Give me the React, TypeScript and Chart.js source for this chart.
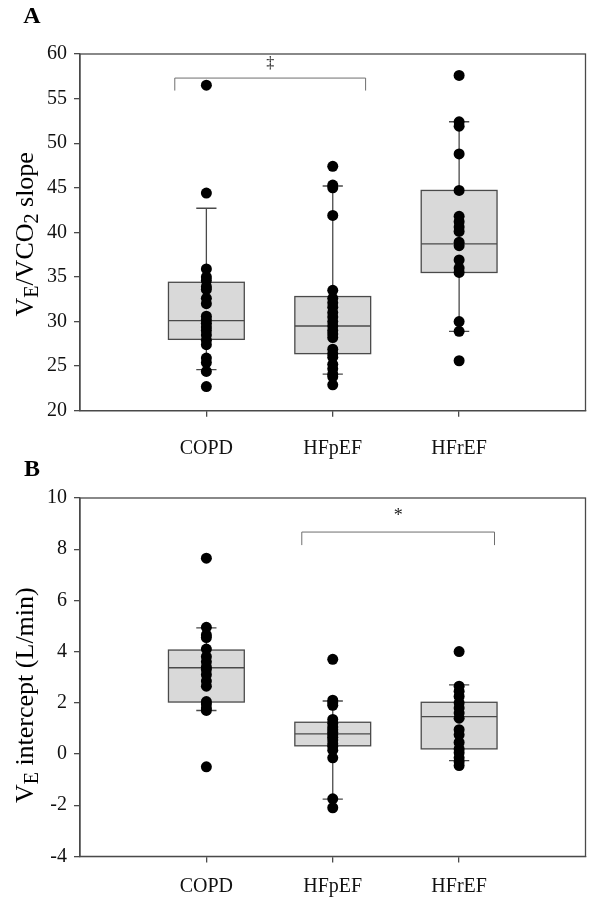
import React, { useEffect, useRef } from "react";
import { Chart, registerables } from "chart.js";

Chart.register(...registerables);

// ---------- data ----------
const categories = ["COPD", "HFpEF", "HFrEF"];

// Panel A: VE/VCO2 slope
const slopeCOPD = [56.5, 44.4, 35.9, 35.0, 34.6, 33.9, 33.6, 32.6, 32.0, 30.6, 30.2, 29.8, 29.4, 29.0, 28.5, 27.9, 27.4, 25.9, 25.4, 24.4, 22.7];
const slopeHFpEF = [47.4, 45.3, 45.0, 41.9, 33.5, 32.6, 32.1, 31.6, 31.0, 30.5, 30.0, 29.5, 29.0, 28.6, 28.2, 26.9, 26.4, 26.0, 25.2, 24.7, 24.1, 23.8, 22.9];
const slopeHFrEF = [57.6, 52.4, 51.9, 48.8, 44.7, 41.8, 41.2, 40.6, 40.1, 38.9, 38.5, 36.9, 36.0, 35.5, 30.0, 28.9, 25.6];
const slopeWhiskerLow = [24.6, 24.1, 28.9];
const slopeQ1 = [28.0, 26.4, 35.5];
const slopeMedian = [30.1, 29.5, 38.7];
const slopeQ3 = [34.4, 32.8, 44.7];
const slopeWhiskerHigh = [42.7, 45.2, 52.4];
const slopeTicks = [20, 25, 30, 35, 40, 45, 50, 55, 60];

// Panel B: VE intercept
const interceptCOPD = [7.65, 4.95, 4.65, 4.55, 4.1, 3.8, 3.6, 3.4, 3.3, 3.1, 2.85, 2.65, 2.05, 1.95, 1.8, 1.7, -0.5];
const interceptHFpEF = [3.7, 2.1, 2.0, 1.9, 1.35, 1.2, 1.05, 0.95, 0.85, 0.75, 0.65, 0.55, 0.4, 0.3, 0.15, -0.15, -1.75, -2.1];
const interceptHFrEF = [4.0, 2.65, 2.45, 2.25, 2.0, 1.8, 1.6, 1.4, 0.95, 0.75, 0.45, 0.2, 0.05, -0.15, -0.3, -0.45];
const interceptWhiskerLow = [1.7, -1.76, -0.26];
const interceptQ1 = [2.03, 0.32, 0.2];
const interceptMedian = [3.37, 0.79, 1.46];
const interceptQ3 = [4.06, 1.24, 2.02];
const interceptWhiskerHigh = [4.93, 2.07, 2.7];
const interceptTicks = [-4, -2, 0, 2, 4, 6, 8, 10];

// ---------- styling ----------
const SERIF = '"Liberation Serif", "Times New Roman", serif';
const AXIS_COLOR = "#4a4a4a";
const BOX_FILL = "#d9d9d9";
const BOX_W = 0.6; // in category units
const CAP_W = 0.16;

type Panel = {
  letter: string;
  top: number;
  height: number;
  padTop: number;
  xAxisHeight: number;
  xLabelPad: number;
  letterY: number;
  titleShift: number;
  ticks: number[];
  series: number[][];
  lo: number[];
  q1: number[];
  med: number[];
  q3: number[];
  hi: number[];
  title: { text: string; sub?: boolean }[];
  bracket: { from: number; to: number; y: number; drop: number; label: string; labelY: number; labelSize: number };
};

const panels: Panel[] = [
  {
    letter: "A",
    top: 0,
    height: 460,
    padTop: 54,
    xAxisHeight: 49.3,
    xLabelPad: 20,
    letterY: 17,
    titleShift: 2,
    ticks: slopeTicks,
    series: [slopeCOPD, slopeHFpEF, slopeHFrEF],
    lo: slopeWhiskerLow,
    q1: slopeQ1,
    med: slopeMedian,
    q3: slopeQ3,
    hi: slopeWhiskerHigh,
    title: [
      { text: "V" },
      { text: "E", sub: true },
      { text: "/VCO" },
      { text: "2", sub: true },
      { text: " slope" },
    ],
    bracket: { from: 0.75, to: 2.26, y: 57.3, drop: 55.9, label: "‡", labelY: 58.9, labelSize: 16 },
  },
  {
    letter: "B",
    top: 460,
    height: 440,
    padTop: 38,
    xAxisHeight: 43.6,
    xLabelPad: 12,
    letterY: 10,
    titleShift: 18,
    ticks: interceptTicks,
    series: [interceptCOPD, interceptHFpEF, interceptHFrEF],
    lo: interceptWhiskerLow,
    q1: interceptQ1,
    med: interceptMedian,
    q3: interceptQ3,
    hi: interceptWhiskerHigh,
    title: [{ text: "V" }, { text: "E", sub: true }, { text: " intercept (L/min)" }],
    bracket: { from: 1.755, to: 3.28, y: 8.67, drop: 8.16, label: "*", labelY: 9.3, labelSize: 18 },
  },
];

const boxPlugin = {
  id: "boxWhisker",
  beforeDatasetsDraw(chart: any, _args: any, opts: any) {
    const p: Panel = opts.panel;
    const { ctx } = chart;
    const x = chart.scales.x;
    const y = chart.scales.y;
    ctx.save();
    ctx.strokeStyle = AXIS_COLOR;
    ctx.lineWidth = 1.3;
    p.q1.forEach((q1, i) => {
      const cx = x.getPixelForValue(i + 1);
      const half = x.getPixelForValue(i + 1 + BOX_W / 2) - cx;
      const capHalf = x.getPixelForValue(i + 1 + CAP_W / 2) - cx;
      const yq1 = y.getPixelForValue(q1);
      const yq3 = y.getPixelForValue(p.q3[i]);
      const ym = y.getPixelForValue(p.med[i]);
      const ylo = y.getPixelForValue(p.lo[i]);
      const yhi = y.getPixelForValue(p.hi[i]);
      ctx.beginPath();
      ctx.moveTo(cx, yq3);
      ctx.lineTo(cx, yhi);
      ctx.moveTo(cx, yq1);
      ctx.lineTo(cx, ylo);
      ctx.moveTo(cx - capHalf, yhi);
      ctx.lineTo(cx + capHalf, yhi);
      ctx.moveTo(cx - capHalf, ylo);
      ctx.lineTo(cx + capHalf, ylo);
      ctx.stroke();
      ctx.fillStyle = BOX_FILL;
      ctx.fillRect(cx - half, yq3, 2 * half, yq1 - yq3);
      ctx.strokeRect(cx - half, yq3, 2 * half, yq1 - yq3);
      ctx.beginPath();
      ctx.moveTo(cx - half, ym);
      ctx.lineTo(cx + half, ym);
      ctx.stroke();
    });
    ctx.restore();
  },
  afterDraw(chart: any, _args: any, opts: any) {
    const p: Panel = opts.panel;
    const { ctx, chartArea } = chart;
    const x = chart.scales.x;
    const y = chart.scales.y;
    ctx.save();
    // frame
    ctx.strokeStyle = AXIS_COLOR;
    ctx.lineWidth = 1.3;
    ctx.strokeRect(chartArea.left, chartArea.top, chartArea.right - chartArea.left, chartArea.bottom - chartArea.top);

    // significance bracket
    const b = p.bracket;
    const bx1 = x.getPixelForValue(b.from);
    const bx2 = x.getPixelForValue(b.to);
    const by = y.getPixelForValue(b.y);
    const bd = y.getPixelForValue(b.drop);
    ctx.strokeStyle = "#6e6e6e";
    ctx.lineWidth = 1;
    ctx.beginPath();
    ctx.moveTo(bx1, bd);
    ctx.lineTo(bx1, by);
    ctx.lineTo(bx2, by);
    ctx.lineTo(bx2, bd);
    ctx.stroke();
    ctx.fillStyle = "#222";
    ctx.font = `${b.labelSize}px ${SERIF}`;
    ctx.textAlign = "center";
    ctx.textBaseline = "middle";
    ctx.fillText(b.label, (bx1 + bx2) / 2, y.getPixelForValue(b.labelY));

    // panel letter
    ctx.fillStyle = "#000";
    ctx.font = `bold 24px ${SERIF}`;
    ctx.textAlign = "center";
    ctx.textBaseline = "middle";
    ctx.fillText(p.letter, 32, p.letterY);

    // y-axis title with subscripts
    const mainFont = `26px ${SERIF}`;
    const subFont = `20px ${SERIF}`;
    let total = 0;
    const widths = p.title.map((part) => {
      ctx.font = part.sub ? subFont : mainFont;
      const w = ctx.measureText(part.text).width;
      total += w;
      return w;
    });
    const cy = (chartArea.top + chartArea.bottom) / 2 + p.titleShift;
    ctx.translate(26, cy);
    ctx.rotate(-Math.PI / 2);
    ctx.textAlign = "left";
    ctx.textBaseline = "middle";
    let pos = -total / 2;
    p.title.forEach((part, i) => {
      ctx.font = part.sub ? subFont : mainFont;
      ctx.fillText(part.text, pos, part.sub ? 7 : 0);
      pos += widths[i];
    });
    ctx.restore();
  },
};

function PanelChart({ p }: { p: Panel }) {
  const ref = useRef<HTMLCanvasElement | null>(null);
  useEffect(() => {
    if (!ref.current) return;
    const datasets = p.series.map((vals, i) => ({
      type: "scatter" as const,
      data: vals.map((v) => ({ x: i + 1, y: v })),
      pointRadius: 5.5,
      pointHoverRadius: 5.5,
      backgroundColor: "#000",
      borderWidth: 0,
    }));
    const min = p.ticks[0];
    const max = p.ticks[p.ticks.length - 1];
    const chart = new Chart(ref.current, {
      type: "scatter",
      data: { datasets },
      plugins: [boxPlugin],
      options: {
        animation: false,
        responsive: false,
        maintainAspectRatio: false,
        layout: { padding: { top: p.padTop, right: 2, left: 0, bottom: 0 } },
        plugins: {
          legend: { display: false },
          tooltip: { enabled: false },
          boxWhisker: { panel: p },
        } as any,
        scales: {
          x: {
            type: "linear",
            min: 0,
            max: 4,
            afterBuildTicks: (scale: any) => {
              scale.ticks = categories.map((_, i) => ({ value: i + 1 }));
            },
            afterFit: (scale: any) => {
              scale.height = p.xAxisHeight;
            },
            ticks: {
              callback: (v: any) => categories[Number(v) - 1] ?? "",
              font: { family: SERIF, size: 20 },
              color: "#111",
              padding: p.xLabelPad,
              maxRotation: 0,
              autoSkip: false,
            },
            grid: { drawOnChartArea: false, drawTicks: true, tickLength: 6, color: AXIS_COLOR, lineWidth: 1.3 },
            border: { display: true, color: AXIS_COLOR, width: 1.3 },
          },
          y: {
            type: "linear",
            min,
            max,
            afterBuildTicks: (scale: any) => {
              scale.ticks = p.ticks.map((v) => ({ value: v }));
            },
            afterFit: (scale: any) => {
              scale.width = 80;
            },
            ticks: {
              font: { family: SERIF, size: 20 },
              color: "#111",
              padding: 7,
              autoSkip: false,
            },
            grid: { drawOnChartArea: false, drawTicks: true, tickLength: 6, color: AXIS_COLOR, lineWidth: 1.3 },
            border: { display: true, color: AXIS_COLOR, width: 1.3 },
          },
        },
      } as any,
    });
    return () => chart.destroy();
  }, [p]);
  return (
    <canvas
      ref={ref}
      width={591}
      height={p.height}
      style={{ position: "absolute", left: 0, top: p.top, width: 591, height: p.height, display: "block" }}
    />
  );
}

export default function App() {
  return (
    <div style={{ position: "absolute", left: 0, top: 0, width: 591, height: 900, background: "#fff" }}>
      {panels.map((p) => (
        <PanelChart key={p.letter} p={p} />
      ))}
    </div>
  );
}
